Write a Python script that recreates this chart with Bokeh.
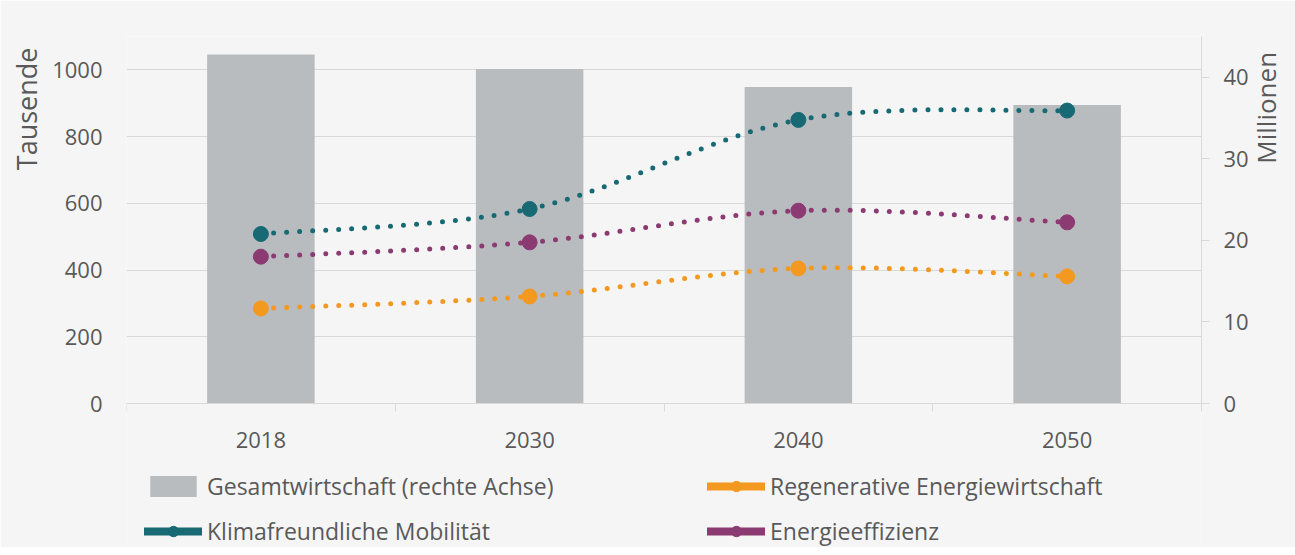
import math
from bokeh.plotting import figure
from bokeh.models import (Range1d, LinearAxis, FixedTicker, Legend, LegendItem,
                          ColumnDataSource, Title)
from bokeh.embed import file_html
from bokeh.resources import INLINE

# ---- data ----
years = ["2018", "2030", "2040", "2050"]
gesamt = [42.8, 41.0, 38.8, 36.6]            # Millionen (rechte Achse)
regenerativ = [285, 321, 405, 381]           # Tausende
klima = [508, 583, 850, 878]                 # Tausende
effizienz = [440, 483, 578, 543]             # Tausende
left_ticks = [0, 200, 400, 600, 800, 1000]
right_ticks = [0, 10, 20, 30, 40]
LEFT_MAX, RIGHT_MAX = 1100, 45

FONT = "Open Sans"
TXT = "#595959"
GRID = "#d9d9d9"
C_BAR = "#b8bcbf"
C_ORANGE = "#f4991f"
C_TEAL = "#176a73"
C_PURPLE = "#8b3a72"

# ---- layout (pixels) ----
W, H = 1287, 547
F_LEFT, F_RIGHT, F_TOP, ZERO_Y = 125, 1200, 36, 403
below = (H - ZERO_Y) / (ZERO_Y - F_TOP)      # fraction of axis span below zero

idx = list(range(len(years)))

p = figure(width=W, height=H, output_backend="svg", toolbar_location=None,
           x_range=Range1d(-0.5, len(years) - 0.5),
           y_range=Range1d(-LEFT_MAX * below, LEFT_MAX),
           min_border_left=F_LEFT, min_border_right=W - F_RIGHT,
           min_border_top=F_TOP, min_border_bottom=0, title=None)
p.frame_width = F_RIGHT - F_LEFT
p.frame_height = H - F_TOP
p.border_fill_color = "#f5f5f5"
p.background_fill_color = "#f5f5f5"
p.outline_line_color = None
p.extra_y_ranges = {"right": Range1d(-RIGHT_MAX * below, RIGHT_MAX)}

# x axis, drawn at y = 0 inside the frame
p.xaxis.fixed_location = 0
p.xaxis.ticker = FixedTicker(ticks=idx, minor_ticks=[i - 0.5 for i in range(len(years) + 1)])
p.xaxis.major_label_overrides = {i: y for i, y in zip(idx, years)}
p.xaxis.major_tick_out = 0
p.xaxis.major_tick_in = 0
p.xaxis.major_tick_line_color = None
p.xaxis.minor_tick_out = 8
p.xaxis.minor_tick_in = 0
p.xaxis.minor_tick_line_color = GRID
p.xaxis.axis_line_color = GRID
p.xaxis.major_label_standoff = 20
p.xaxis.major_label_text_font = FONT
p.xaxis.major_label_text_font_size = "22px"
p.xaxis.major_label_text_color = TXT

# left axis
p.yaxis.ticker = FixedTicker(ticks=left_ticks)
p.yaxis.axis_line_color = None
p.yaxis.major_tick_line_color = None
p.yaxis.minor_tick_line_color = None
p.yaxis.major_tick_out = 0
p.yaxis.major_label_standoff = 24
p.yaxis.major_label_text_font = FONT
p.yaxis.major_label_text_font_size = "22px"
p.yaxis.major_label_text_color = TXT

# right axis
ra = LinearAxis(y_range_name="right", ticker=FixedTicker(ticks=right_ticks))
ra.bounds = (-RIGHT_MAX * 8 / (ZERO_Y - F_TOP), RIGHT_MAX)
ra.axis_line_color = GRID
ra.major_tick_line_color = GRID
ra.major_tick_out = 8
ra.major_tick_in = 0
ra.minor_tick_line_color = None
ra.major_label_standoff = 14
ra.major_label_text_font = FONT
ra.major_label_text_font_size = "22px"
ra.major_label_text_color = TXT

right_done = False
if "axis_label_orientation" in ra.properties():
    try:
        ra.axis_label = "\u00a0" * 19 + "Millionen"
        ra.axis_label_orientation = math.pi / 2
        ra.axis_label_standoff = 14
        ra.axis_label_text_font = FONT
        ra.axis_label_text_font_size = "26px"
        ra.axis_label_text_font_style = "normal"
        ra.axis_label_text_color = TXT
        right_done = True
    except Exception:
        ra.axis_label = None
        right_done = False
p.add_layout(ra, "right")
if not right_done:
    p.add_layout(Title(text="Millionen", align="left", text_font=FONT,
                       text_font_size="26px", text_color=TXT,
                       text_font_style="normal", standoff=2), "right")

p.xgrid.grid_line_color = None
p.ygrid.grid_line_color = GRID
p.ygrid.ticker = FixedTicker(ticks=left_ticks)

# left axis title
p.add_layout(Title(text="Tausende", align="right", text_font=FONT,
                   text_font_size="27px", text_color=TXT, text_font_style="normal",
                   standoff=10, offset=11), "left")

# bars
src = ColumnDataSource(dict(x=idx, g=gesamt))
bars = p.vbar(x="x", top="g", width=0.4, source=src, y_range_name="right",
              fill_color=C_BAR, line_color=None)


def smooth(xs, ys):
    n = len(xs)
    out = dict(x0=[], y0=[], x1=[], y1=[], cx0=[], cy0=[], cx1=[], cy1=[])
    for i in range(n - 1):
        xm, ym = (xs[i - 1], ys[i - 1]) if i > 0 else (xs[i], ys[i])
        xp, yp = (xs[i + 2], ys[i + 2]) if i + 2 < n else (xs[i + 1], ys[i + 1])
        out["x0"].append(xs[i]); out["y0"].append(ys[i])
        out["x1"].append(xs[i + 1]); out["y1"].append(ys[i + 1])
        out["cx0"].append(xs[i] + (xs[i + 1] - xm) / 6)
        out["cy0"].append(ys[i] + (ys[i + 1] - ym) / 6)
        out["cx1"].append(xs[i + 1] - (xp - xs[i]) / 6)
        out["cy1"].append(ys[i + 1] - (yp - ys[i]) / 6)
    return ColumnDataSource(out)


litems = {"Gesamtwirtschaft (rechte Achse)":
          LegendItem(label="Gesamtwirtschaft (rechte Achse)", renderers=[bars])}
for name, vals, col in [("Regenerative Energiewirtschaft", regenerativ, C_ORANGE),
                        ("Klimafreundliche Mobilität", klima, C_TEAL),
                        ("Energieeffizienz", effizienz, C_PURPLE)]:
    p.bezier(x0="x0", y0="y0", x1="x1", y1="y1", cx0="cx0", cy0="cy0",
             cx1="cx1", cy1="cy1", source=smooth(idx, vals), line_color=col,
             line_width=5, line_dash="0 13", line_cap="round")
    p.scatter(idx, vals, size=15, fill_color=col, line_color=col)
    # legend-only glyphs (hidden in the plot, shown in the legend)
    lr = p.line(idx, vals, line_color=col, line_width=8, line_cap="round", visible=False)
    sr = p.scatter(idx, vals, size=15, fill_color=col, line_color=col, visible=False)
    litems[name] = LegendItem(label=name, renderers=[lr, sr])

order = ["Gesamtwirtschaft (rechte Achse)", "Regenerative Energiewirtschaft",
         "Klimafreundliche Mobilität", "Energieeffizienz"]
legend = Legend(items=[litems[n] for n in order], ncols=2, orientation="horizontal",
                location=(18, 0), glyph_width=58, glyph_height=26, label_standoff=5,
                label_width=487, spacing=13, padding=0, margin=0,
                border_line_color=None, background_fill_alpha=0,
                inactive_fill_alpha=0,
                label_text_font=FONT, label_text_font_size="23px",
                label_text_color=TXT)
p.add_layout(legend, "center")

open("out.html", "w").write(file_html(p, INLINE))
